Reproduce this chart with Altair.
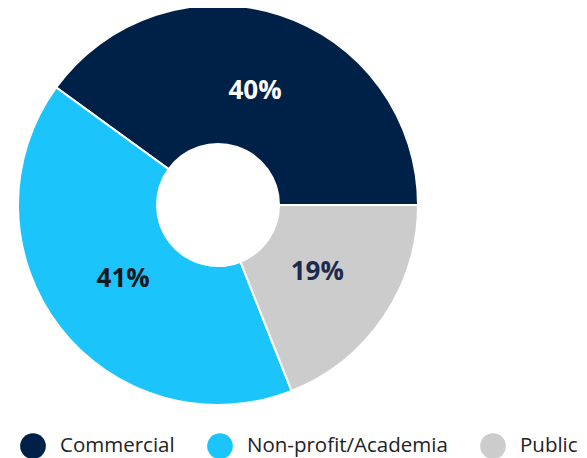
import altair as alt
import pandas as pd
import math

categories = ["Commercial", "Non-profit/Academia", "Public"]
shares = [40, 41, 19]
labels = ["40%", "41%", "19%"]

slice_colors = ["#002147", "#1cc4fc", "#cccccc"]
label_colors = ["#ffffff", "#141821", "#1c2a4e"]

df = pd.DataFrame({
    "category": categories,
    "share": shares,
    "label": labels,
    "idx": list(range(len(categories))),
})

FONT = "Open Sans"
cx, cy = 210, 197

base = alt.Chart(df).encode(
    theta=alt.Theta("share:Q", stack=True,
                    scale=alt.Scale(range=[math.pi / 2, math.pi / 2 + 2 * math.pi])),
    order=alt.Order("idx:Q", sort="descending"),
)

arcs = base.mark_arc(outerRadius=200, innerRadius=61, stroke="white", strokeWidth=2).encode(
    x=alt.value(cx),
    y=alt.value(cy),
    color=alt.Color(
        "category:N",
        scale=alt.Scale(domain=categories, range=slice_colors),
        legend=alt.Legend(
            title=None,
            orient="none",
            legendX=12,
            legendY=425,
            direction="horizontal",
            symbolType="circle",
            symbolSize=660,
            symbolStrokeWidth=0,
            labelFont=FONT,
            labelFontSize=20.5,
            labelColor="#222222",
            labelOffset=14,
            columnPadding=32,
            labelLimit=400,
        ),
    ),
)

texts = base.mark_text(radius=120, font=FONT, fontSize=26, fontWeight="bold").encode(
    x=alt.value(cx),
    y=alt.value(cy),
    text="label:N",
    color=alt.Color("category:N",
                    scale=alt.Scale(domain=categories, range=label_colors),
                    legend=None),
)

chart = alt.layer(arcs, texts).resolve_scale(color="independent").properties(
    width=571,
    height=450,
    autosize=alt.AutoSizeParams(type="none"),
    padding=0,
).configure_view(stroke=None)

chart.save("out.html", embed_options={"renderer": "svg", "actions": False})
